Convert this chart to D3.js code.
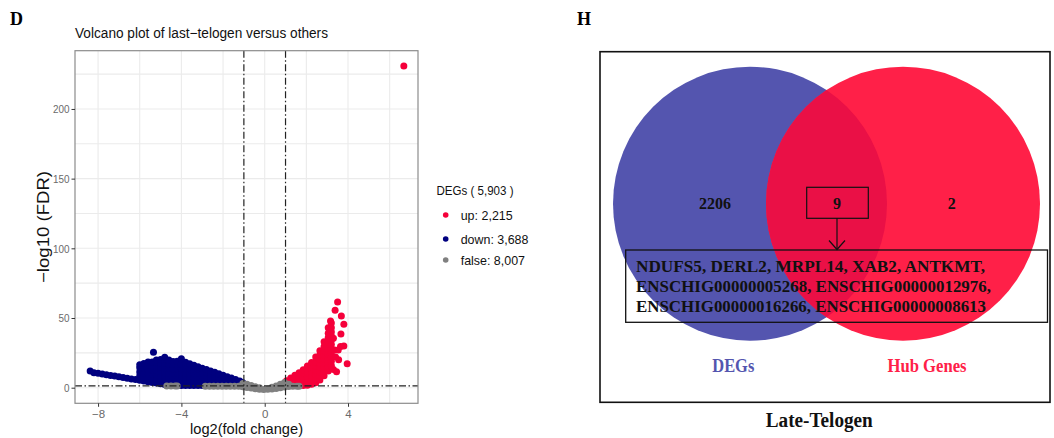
<!DOCTYPE html>
<html><head><meta charset="utf-8">
<script src="https://cdn.jsdelivr.net/npm/d3@7"></script>
<style>body{margin:0;background:#fff} svg{display:block}</style>
</head><body>
<svg id="fig" width="1054" height="438"></svg>
<script>
// ---------- Volcano data ----------
const xTicks = [-8, -4, 0, 4];
const xMinor = [-6, -2, 2, 6];
const yTicks = [0, 50, 100, 150, 200];
const yMinor = [25, 75, 125, 175, 225];
const fcCut = [-1, 1];
const fdrCut = 1.3;
const legendTitle = "DEGs ( 5,903 )";
const legendLabels = ["up: 2,215", "down: 3,688", "false: 8,007"];

const downPts = [
[-8.38,12],[-8.2,10.8],[-8.0,10.3],[-7.8,9.8],[-7.6,9.3],[-7.4,8.8],[-7.2,8.3],[-7.0,7.8],[-6.8,7.3],[-6.6,6.8],[-6.4,6.3],[-6.2,5.8],
[-6.0,5.3],[-6.0,8.3],[-6.0,11.3],[-6.0,14.3],[-6.0,16.5],
[-5.8,4.8],[-5.8,7.8],[-5.8,10.8],[-5.8,13.8],[-5.8,17.4],
[-5.6,4.3],[-5.6,7.3],[-5.6,10.3],[-5.6,13.3],[-5.6,16.3],[-5.6,18.5],
[-5.4,3.8],[-5.4,6.8],[-5.4,9.8],[-5.4,12.8],[-5.4,15.8],[-5.4,18.4],
[-5.34,25.4],
[-5.2,3.3],[-5.2,6.3],[-5.2,9.3],[-5.2,12.3],[-5.2,15.3],[-5.2,18.3],[-5.2,19.8],
[-5.0,2.8],[-5.0,5.8],[-5.0,8.8],[-5.0,11.8],[-5.0,14.8],[-5.0,17.8],[-5.0,20.2],
[-4.8,2.3],[-4.8,5.3],[-4.8,8.3],[-4.8,11.3],[-4.8,14.3],[-4.8,17.3],[-4.8,20.3],[-4.8,21.8],
[-4.6,1.8],[-4.6,4.8],[-4.6,7.8],[-4.6,10.8],[-4.6,13.8],[-4.6,16.8],[-4.6,19.8],
[-4.4,1.6],[-4.4,4.6],[-4.4,7.6],[-4.4,10.6],[-4.4,13.6],[-4.4,16.6],[-4.4,18.8],
[-4.2,1.6],[-4.2,4.6],[-4.2,7.6],[-4.2,10.6],[-4.2,13.6],[-4.2,16.6],[-4.2,19.0],
[-4.0,1.6],[-4.0,4.6],[-4.0,7.6],[-4.0,10.6],[-4.0,13.6],[-4.0,16.6],[-4.0,20.8],
[-3.8,1.6],[-3.8,4.6],[-3.8,7.6],[-3.8,10.6],[-3.8,13.6],[-3.8,16.4],[-3.8,18.3],
[-3.6,1.6],[-3.6,4.6],[-3.6,7.6],[-3.6,10.6],[-3.6,13.6],[-3.6,17.2],
[-3.4,1.6],[-3.4,4.6],[-3.4,7.6],[-3.4,10.6],[-3.4,13.6],[-3.4,16.1],
[-3.2,1.6],[-3.2,4.6],[-3.2,7.6],[-3.2,10.6],[-3.2,13.6],[-3.2,15.1],
[-3.0,1.6],[-3.0,4.6],[-3.0,7.6],[-3.0,10.6],[-3.0,14.0],
[-2.8,1.6],[-2.8,4.6],[-2.8,7.6],[-2.8,10.6],[-2.8,13.0],
[-2.6,1.6],[-2.6,4.6],[-2.6,7.6],[-2.6,10.6],[-2.6,12.0],
[-2.4,1.6],[-2.4,4.6],[-2.4,7.6],[-2.4,11.0],
[-2.2,1.6],[-2.2,4.6],[-2.2,7.6],[-2.2,10.0],
[-2.0,1.6],[-2.0,4.6],[-2.0,7.6],[-2.0,9.0],
[-1.8,1.6],[-1.8,4.6],[-1.8,7.9],
[-1.6,1.6],[-1.6,4.6],[-1.6,6.9],
[-1.4,1.6],[-1.4,4.6],[-1.4,5.8],
[-1.2,1.6],[-1.2,4.8],
[-1.05,1.6],[-1.05,3.6]
];

const upPts = [
[1.05,1.5],[1.05,5.0],
[1.25,1.5],[1.25,4.5],[1.25,7.0],
[1.45,1.5],[1.45,4.5],[1.45,7.5],[1.45,9.0],
[1.65,1.5],[1.65,4.5],[1.65,7.5],[1.65,10.8],
[1.85,1.5],[1.85,4.5],[1.85,7.5],[1.85,10.5],[1.85,12.8],
[2.05,1.8],[2.05,4.8],[2.05,7.8],[2.05,10.8],[2.05,13.8],[2.05,15.5],
[2.25,2.5],[2.25,5.5],[2.25,8.5],[2.25,11.5],[2.25,14.5],[2.25,18.0],
[2.45,3.5],[2.45,6.5],[2.45,9.5],[2.45,12.5],[2.45,15.5],[2.45,18.5],[2.45,22.0],
[2.65,5.5],[2.65,8.5],[2.65,11.5],[2.65,14.5],[2.65,17.5],[2.65,20.5],[2.65,23.5],[2.65,26.5],
[2.85,8.5],[2.85,11.5],[2.85,14.5],[2.85,17.5],[2.85,20.5],[2.85,23.5],[2.85,26.5],[2.85,29.5],[2.85,33.0],
[3.05,12.0],[3.05,15.0],[3.05,18.0],[3.05,21.0],[3.05,24.0],[3.05,27.0],[3.05,30.0],[3.05,33.0],[3.05,36.0],[3.05,39.0],[3.05,43.0],
[3.2,16.0],[3.2,19.0],[3.2,22.0],[3.2,25.0],[3.2,28.0],[3.2,31.0],[3.2,34.0],[3.2,37.0],[3.2,40.0],[3.2,43.0],[3.2,46.5],
[3.16,47.8],[3.3,35.5],[3.35,27],[3.4,22],[3.3,13],[3.45,11.5],[3.55,20],[3.53,27],[3.64,29.5],[3.8,30],
[3.66,38.5],[3.8,45.5],[3.68,51.5],[3.38,55.5],[3.5,61.5],[3.96,17.2],
[6.68,230.8]
];

const falsePts = [
[-4.7,1.2],[-4.5,1.2],[-4.3,1.2],[-4.2,1.2],
[-2.85,1.0],[-2.65,1.0],[-2.45,1.0],[-2.25,1.0],[-2.05,1.0],[-1.85,1.0],[-1.65,1.0],[-1.45,1.0],[-1.25,1.0],
[-1.05,0.6],[-1.05,3.0],[-0.85,0.2],[-0.85,2.4],[-0.65,-0.3],[-0.65,1.6],[-0.45,-0.8],[-0.45,0.7],
[-0.25,-1.1],[-0.25,0.0],[-0.05,-1.3],[0.15,-1.2],[0.35,-1.0],[0.35,0.3],[0.55,-0.5],[0.55,1.3],
[0.75,0.0],[0.75,2.5],[0.95,0.5],[0.95,3.8],[1.15,0.9],[1.15,2.5],[1.35,1.0],[1.55,1.0],[1.65,1.0]
];

// ---------- Venn data ----------
const vennSets = ["DEGs", "Hub Genes"];
const vennCounts = [2206, 9, 2];
const sharedGenes = ["NDUFS5", "DERL2", "MRPL14", "XAB2", "ANTKMT",
  "ENSCHIG00000005268", "ENSCHIG00000012976", "ENSCHIG00000016266", "ENSCHIG00000008613"];
const geneLineSizes = [5, 2, 2];
const vennCaption = "Late-Telogen";

const COL_UP = "#F5003A", COL_DOWN = "#00007F", COL_FALSE = "#808080";
const SANS = "'Liberation Sans', Arial, sans-serif";
const SERIF = "'Liberation Serif', 'Times New Roman', serif";

const svg = d3.select("#fig");

// ================= Panel D =================
const L = 75, R = 418, T = 50.7, B = 403.3;
const x = d3.scaleLinear().domain([-9.108, 7.36]).range([L, R]);
const y = d3.scaleLinear().domain([-11.2, 241.8]).range([B, T]);

svg.append("text").attr("x", 10).attr("y", 25).attr("font-family", SERIF)
  .attr("font-weight", "bold").attr("font-size", 18).text("D");
svg.append("text").attr("x", 75).attr("y", 37.5).attr("font-family", SANS)
  .attr("font-size", 14).attr("fill", "#111").attr("textLength", 253)
  .attr("lengthAdjust", "spacingAndGlyphs").text("Volcano plot of last\u2212telogen versus others");

const g = svg.append("g");
const gridCol = "#EBEBEB";
g.selectAll(".vgrid").data(xTicks.concat(xMinor)).join("line")
  .attr("x1", d => x(d)).attr("x2", d => x(d)).attr("y1", T).attr("y2", B)
  .attr("stroke", gridCol).attr("stroke-width", 1.1);
g.selectAll(".hgrid").data(yTicks.concat(yMinor)).join("line")
  .attr("x1", L).attr("x2", R).attr("y1", d => y(d)).attr("y2", d => y(d))
  .attr("stroke", gridCol).attr("stroke-width", 1.1);

const r = 3.5;
function pts(data, col) {
  g.append("g").selectAll("circle").data(data).join("circle")
    .attr("cx", d => x(d[0])).attr("cy", d => y(d[1])).attr("r", r).attr("fill", col);
}
pts(downPts, COL_DOWN);
pts(upPts, COL_UP);
pts(falsePts, COL_FALSE);

const dash = "7,2.5,1.5,2.5";
g.selectAll(".vcut").data(fcCut).join("line")
  .attr("x1", d => x(d)).attr("x2", d => x(d)).attr("y1", T).attr("y2", B)
  .attr("stroke", "#222").attr("stroke-width", 1.2).attr("stroke-dasharray", dash);
g.append("line").attr("x1", L).attr("x2", R).attr("y1", y(fdrCut)).attr("y2", y(fdrCut))
  .attr("stroke", "#222").attr("stroke-width", 1.2).attr("stroke-dasharray", dash);

g.append("rect").attr("x", L).attr("y", T).attr("width", R - L).attr("height", B - T)
  .attr("fill", "none").attr("stroke", "#8C8C8C").attr("stroke-width", 1.2);

const fmt = d => d < 0 ? "\u2212" + Math.abs(d) : String(d);
const ax = svg.append("g").attr("transform", `translate(0,${B})`)
  .call(d3.axisBottom(x).tickValues(xTicks).tickSize(3.5).tickPadding(3).tickFormat(fmt));
const ay = svg.append("g").attr("transform", `translate(${L},0)`)
  .call(d3.axisLeft(y).tickValues(yTicks).tickSize(3.5).tickPadding(2).tickFormat(fmt));
[ax, ay].forEach(a => {
  a.select(".domain").remove();
  a.selectAll(".tick line").attr("stroke", "#333").attr("stroke-width", 1);
  a.selectAll(".tick text").attr("font-family", SANS).attr("font-size", 11.5).attr("fill", "#6a6a6a");
});
ay.selectAll(".tick text").attr("textLength", d => String(fmt(d)).length * 5.5).attr("lengthAdjust", "spacingAndGlyphs");

svg.append("text").attr("x", (L + R) / 2).attr("y", 434.3).attr("text-anchor", "middle")
  .attr("font-family", SANS).attr("font-size", 15.5).attr("fill", "#111")
  .attr("textLength", 113).attr("lengthAdjust", "spacingAndGlyphs").text("log2(fold change)");
svg.append("text").attr("transform", `translate(49,${(T + B) / 2}) rotate(-90)`).attr("text-anchor", "middle")
  .attr("font-family", SANS).attr("font-size", 16).attr("fill", "#111")
  .attr("textLength", 112).attr("lengthAdjust", "spacingAndGlyphs").text("\u2212log10 (FDR)");

const lg = svg.append("g");
lg.append("text").attr("x", 436.5).attr("y", 195).attr("font-family", SANS).attr("font-size", 13)
  .attr("fill", "#111").attr("textLength", 77).attr("lengthAdjust", "spacingAndGlyphs").text(legendTitle);
const legCols = [COL_UP, COL_DOWN, COL_FALSE];
const legY = [215, 239, 260];
const legW = [52, 67.7, 64.3];
legendLabels.forEach((t, i) => {
  lg.append("circle").attr("cx", 445.7).attr("cy", legY[i]).attr("r", 2.8).attr("fill", legCols[i]);
  lg.append("text").attr("x", 460.7).attr("y", legY[i] + 5).attr("font-family", SANS).attr("font-size", 13)
    .attr("fill", "#111").attr("textLength", legW[i]).attr("lengthAdjust", "spacingAndGlyphs").text(t);
});

// ================= Panel H =================
const COL_BLUE = "#5455AF", COL_RED = "#FF2048", COL_OVER = "#EA1046";
svg.append("text").attr("x", 577).attr("y", 25).attr("font-family", SERIF)
  .attr("font-weight", "bold").attr("font-size", 18).text("H");

const vg = svg.append("g");
const cBlue = {cx: 750, cy: 203.7, r: 137}, cRed = {cx: 903, cy: 203.7, r: 137};
vg.append("defs").append("clipPath").attr("id", "redClip").append("circle")
  .attr("cx", cRed.cx).attr("cy", cRed.cy).attr("r", cRed.r);
vg.append("circle").attr("cx", cBlue.cx).attr("cy", cBlue.cy).attr("r", cBlue.r).attr("fill", COL_BLUE);
vg.append("circle").attr("cx", cRed.cx).attr("cy", cRed.cy).attr("r", cRed.r).attr("fill", COL_RED);
vg.append("circle").attr("cx", cBlue.cx).attr("cy", cBlue.cy).attr("r", cBlue.r).attr("fill", COL_OVER)
  .attr("clip-path", "url(#redClip)");

vg.append("rect").attr("x", 600).attr("y", 51.7).attr("width", 450).attr("height", 350.6)
  .attr("fill", "none").attr("stroke", "#111").attr("stroke-width", 1.6);

const numX = [715, 837, 951.7];
vennCounts.forEach((c, i) => {
  vg.append("text").attr("x", numX[i]).attr("y", 208.7).attr("text-anchor", "middle")
    .attr("font-family", SERIF).attr("font-weight", "bold").attr("font-size", 16).attr("fill", "#111").text(c);
});
vg.append("rect").attr("x", 806.7).attr("y", 187.3).attr("width", 61.6).attr("height", 31)
  .attr("fill", "none").attr("stroke", "#111").attr("stroke-width", 1.2);
vg.append("line").attr("x1", 837).attr("x2", 837).attr("y1", 218.3).attr("y2", 249.5)
  .attr("stroke", "#111").attr("stroke-width", 1.2);
vg.append("path").attr("d", "M829,240.5 L837,249.5 L845,240.5").attr("fill", "none")
  .attr("stroke", "#111").attr("stroke-width", 1.2);

vg.append("rect").attr("x", 625.7).attr("y", 250).attr("width", 421.8).attr("height", 72.3)
  .attr("fill", "none").attr("stroke", "#111").attr("stroke-width", 1.3);
let k = 0;
const lineY = [271.7, 292, 312.3];
const lineW = [349, 355, 350];
geneLineSizes.forEach((n, i) => {
  const names = sharedGenes.slice(k, k + n); k += n;
  const txt = names.join(", ") + (k < sharedGenes.length ? "," : "");
  vg.append("text").attr("x", 636).attr("y", lineY[i]).attr("font-family", SERIF).attr("font-weight", "bold")
    .attr("font-size", 17.5).attr("fill", "#111").attr("textLength", lineW[i])
    .attr("lengthAdjust", "spacingAndGlyphs").text(txt);
});

const setX = [733.3, 927];
const setW = [42, 79];
const setCols = [COL_BLUE, COL_RED];
vennSets.forEach((s, i) => {
  vg.append("text").attr("x", setX[i]).attr("y", 371.7).attr("text-anchor", "middle")
    .attr("font-family", SERIF).attr("font-weight", "bold").attr("font-size", 18).attr("fill", setCols[i])
    .attr("textLength", setW[i]).attr("lengthAdjust", "spacingAndGlyphs").text(s);
});
vg.append("text").attr("x", 819.3).attr("y", 426.7).attr("text-anchor", "middle")
  .attr("font-family", SERIF).attr("font-weight", "bold").attr("font-size", 20).attr("fill", "#111")
  .attr("textLength", 107).attr("lengthAdjust", "spacingAndGlyphs").text(vennCaption);
</script>
</body></html>
